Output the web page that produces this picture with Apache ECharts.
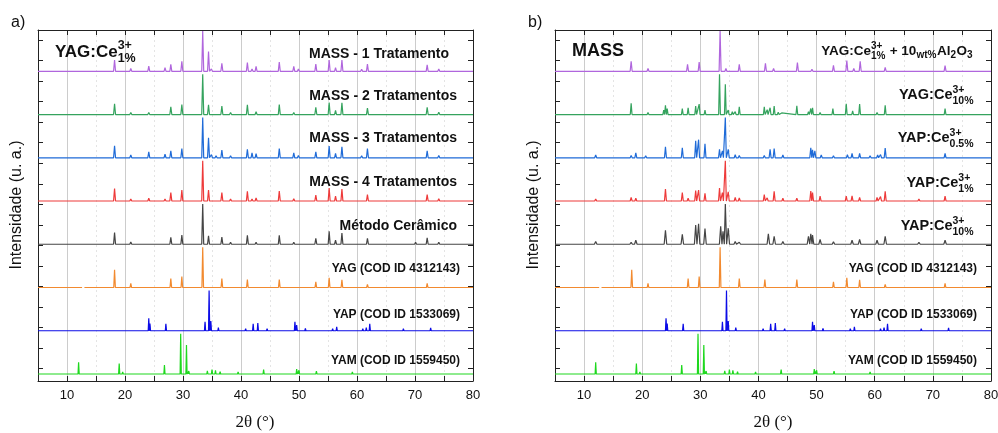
<!DOCTYPE html>
<html>
<head>
<meta charset="utf-8">
<script src="https://cdn.jsdelivr.net/npm/echarts@6/dist/echarts.min.js"></script>
<style>
  html, body { margin: 0; padding: 0; background: #fff; }
  #chart { width: 998px; height: 433px; }
</style>
</head>
<body>
<div id="chart"></div>
<script>
// ---- data: [2θ (°), relative intensity (%)] ----
// panel a)
const mass1 = [[18.2,28],[21.0,7],[24.1,13],[26.9,9],[27.9,17],[29.8,25],[30.9,3],[33.4,100],[34.4,49],[34.9,6],[35.7,4],[36.7,20],[38.2,4],[41.1,22],[41.9,6],[42.6,12],[46.6,23],[49.1,12],[49.9,6],[52.9,18],[55.2,28],[56.3,9],[57.4,28],[60.8,5],[61.8,18],[67.6,3],[70.1,4],[72.1,16],[74.1,6],[76.9,3]];
const mass2 = [[18.2,27],[21.0,5],[24.1,5],[26.9,4],[27.9,19],[29.8,25],[30.9,2],[33.4,100],[34.4,24],[34.9,3],[35.7,2],[36.7,21],[38.2,5],[41.1,24],[41.9,4],[42.6,7],[46.6,25],[49.1,5],[49.9,3],[52.9,18],[55.2,30],[56.3,10],[57.4,29],[60.8,4],[61.8,16],[67.6,2],[70.1,3],[72.1,18],[74.1,6],[76.9,2]];
const mass3 = [[18.2,30],[21.0,7],[24.1,15],[26.9,9],[27.9,17],[29.8,23],[30.9,4],[33.4,100],[34.4,50],[34.9,8],[35.7,5],[36.7,19],[38.2,5],[41.1,21],[41.9,12],[42.6,10],[46.6,23],[49.1,12],[49.9,6],[52.9,15],[55.2,29],[56.3,11],[57.4,27],[60.8,5],[61.8,23],[67.6,3],[70.1,4],[72.1,17],[74.1,6],[76.9,3]];
const mass4 = [[18.2,31],[21.0,5],[24.1,7],[26.9,5],[27.9,21],[29.8,27],[30.9,3],[33.4,100],[34.4,27],[34.9,4],[35.7,3],[36.7,21],[38.2,5],[41.1,24],[41.9,5],[42.6,8],[46.6,25],[49.1,6],[49.9,3],[52.9,15],[55.2,32],[56.3,12],[57.4,30],[60.8,4],[61.8,16],[67.6,3],[70.1,4],[72.1,16],[74.1,6],[76.9,3]];
const ceramico = [[18.2,29],[21.0,6],[24.1,4],[26.0,3],[27.9,17],[29.8,23],[33.4,100],[34.4,21],[36.7,18],[38.2,5],[41.1,22],[42.6,5],[46.6,22],[49.1,5],[49.6,4],[52.9,15],[55.2,32],[56.3,10],[57.4,28],[60.8,4],[61.8,15],[70.1,5],[72.1,16],[74.1,5]];

// panel b)
const yagAl2o3 = [[18.1,25],[21.0,7],[25.8,4],[27.8,17],[29.8,23],[33.4,100],[34.4,7],[36.0,4],[36.7,17],[38.2,4],[41.2,20],[42.6,7],[46.7,22],[49.2,5],[52.9,15],[55.2,27],[56.4,7],[57.5,25],[61.8,10],[70.1,4],[72.1,14],[74.2,4]];
const yagCe10 = [[12.0,3],[18.1,28],[18.9,3],[21.0,5],[23.7,11],[24.0,23],[24.3,15],[25.7,4],[26.9,15],[27.9,17],[29.2,21],[29.8,26],[30.8,11],[33.3,100],[34.3,75],[34.8,11],[35.5,7],[36.0,7],[36.7,19],[38.2,4],[41.0,19],[41.5,12],[42.0,17],[42.7,21],[43.4,6],[44.0,4],[46.6,22],[48.6,7],[49.0,15],[49.3,17],[50.6,5],[52.8,15],[55.1,27],[56.2,9],[57.4,26],[60.4,5],[60.8,4],[61.8,23],[66.6,4],[68.2,2],[70.2,2],[72.1,15],[74.1,3]];
const yapCe05 = [[12.0,7],[18.1,6],[18.9,12],[20.6,5],[24.0,27],[26.9,25],[27.9,4],[29.2,42],[29.7,45],[30.8,35],[33.3,21],[33.8,17],[34.3,100],[34.8,21],[36.0,8],[36.7,6],[39.7,2],[41.0,6],[42.0,21],[42.7,23],[44.2,7],[46.6,4],[49.0,25],[49.3,20],[49.7,17],[50.8,7],[52.9,5],[55.3,8],[56.1,11],[57.4,11],[59.2,5],[60.5,7],[61.0,8],[61.8,24],[67.6,4],[72.1,11],[78.4,2]];
const yapCe1 = [[12.0,5],[18.1,9],[18.9,7],[24.0,30],[26.9,21],[27.9,7],[29.2,26],[29.7,27],[30.8,19],[33.3,32],[33.8,21],[34.3,100],[34.8,23],[36.0,9],[36.7,8],[41.0,16],[41.5,8],[42.7,24],[44.2,7],[46.6,7],[49.0,25],[49.3,21],[50.6,12],[55.1,12],[56.1,13],[57.4,9],[60.4,9],[61.0,11],[61.8,24],[67.6,5],[72.1,12]];
const yapCe10 = [[12.0,7],[18.1,5],[18.9,10],[20.6,4],[24.0,35],[26.9,25],[29.2,48],[29.7,51],[30.8,39],[33.5,45],[33.9,32],[34.3,100],[34.8,40],[36.0,7],[36.7,5],[41.7,26],[42.7,20],[44.2,7],[48.6,20],[49.0,26],[49.3,23],[50.6,12],[52.9,6],[56.1,10],[57.4,12],[60.4,10],[61.8,20],[67.6,5],[72.1,10],[78.4,3]];

// reference cards (both panels)
const yagRef = [[18.2,44],[21.0,10],[27.9,22],[29.8,27],[33.4,100],[36.7,22],[38.2,4],[41.1,20],[42.6,4],[46.6,20],[52.9,14],[55.2,24],[56.3,4],[57.4,19],[60.8,2],[61.8,8],[70.1,4],[72.1,10],[74.1,2]];
const yagRefGap = [12.6, 13.0];
const yapRef = [[24.1,31],[24.3,18],[27.05,17],[33.8,22],[34.5,100],[34.8,24],[36.1,8],[40.8,5],[42.1,17],[42.9,19],[44.5,5],[49.3,22],[49.6,14],[51.1,6],[55.8,5],[56.5,10],[61.0,5],[61.6,8],[62.2,17],[68.0,5],[72.7,7],[78.8,3]];
const yamRef = [[12.0,29],[16.8,4],[19.0,26],[19.6,5],[24.0,3],[26.8,22],[29.6,100],[30.6,72],[31.0,7],[34.2,8],[35.0,11],[35.6,9],[36.4,6],[39.5,5],[43.9,11],[49.6,12],[50.0,9],[53.0,7],[57.8,4],[59.2,5],[61.3,3]];

const xMin = 5, xMax = 80;
const xTickStep = 5;

// ---- layout ----
const FONT = '"Liberation Sans", Arial, sans-serif';
const ROW_OFFSET = 0.162;      // baseline of the bottom row, in row units
const PEAK_SCALE = 0.0093;     // 100 % -> 0.93 row
const Y_MAX = 8.117;
const yTicks = [];
for (let i = 0; i <= 16; i++) yTicks.push((12.3 + 20.54 * i) / 43.24);

const C = {
  purple: '#b066dd', green: '#35a35e', blue: '#1f6bd8', red: '#ee3a3a',
  gray: '#454545', orange: '#f28a2f', yap: '#0c0ce6', yam: '#1ed81e'
};

function profile(peaks, base, hw, gap) {
  const pts = [[xMin, base]];
  if (gap) pts.push([gap[0], base], [(gap[0] + gap[1]) / 2, '-'], [gap[1], base]);
  peaks.forEach(([p, I]) => {
    pts.push([p - hw, base], [p, base + I * PEAK_SCALE], [p + hw, base]);
  });
  pts.push([xMax, base]);
  return pts;
}

function patternSeries(panel, row, peaks, color, hw, opts) {
  opts = opts || {};
  const base = ROW_OFFSET + row;
  const s = {
    type: 'line', xAxisIndex: panel * 2, yAxisIndex: panel * 2,
    data: profile(peaks, base, hw, opts.gap),
    showSymbol: false, symbol: 'none', silent: true, animation: false,
    lineStyle: { color, width: 1.2 }, itemStyle: { color }
  };
  if (opts.fill) s.areaStyle = { origin: base, color, opacity: 1 };
  return s;
}

function axesFor(panel) {
  const common = {
    type: 'value', gridIndex: panel, min: xMin, max: xMax, interval: xTickStep,
    axisLine: { onZero: false, lineStyle: { color: '#222', width: 1 } },
    axisTick: { inside: true, length: 5, lineStyle: { color: '#222' } }
  };
  const xb = Object.assign({}, common, {
    position: 'bottom',
    axisLabel: { formatter: v => (v % 10 === 0 ? String(v) : ''), color: '#111', fontSize: 13, fontFamily: FONT, margin: 8 },
    splitLine: { show: true, lineStyle: { color: ['rgba(0,0,0,0)', '#cccccc'], width: 1 } }
  });
  const xt = Object.assign({}, common, {
    position: 'top',
    axisLabel: { show: false },
    splitLine: { show: true, lineStyle: { color: ['#e4e4e4', 'rgba(0,0,0,0)'], type: [2, 3], width: 1 } }
  });
  const yCommon = {
    type: 'value', gridIndex: panel, min: 0, max: Y_MAX,
    axisLine: { show: true, onZero: false, lineStyle: { color: '#222', width: 1 } },
    axisTick: { show: true, inside: true, length: 5, customValues: yTicks, lineStyle: { color: '#222' } },
    axisLabel: { show: false },
    splitLine: { show: false }
  };
  return {
    x: [xb, xt],
    y: [Object.assign({}, yCommon, { position: 'left' }), Object.assign({}, yCommon, { position: 'right' })]
  };
}

// ---- text helpers ----
const mctx = document.createElement('canvas').getContext('2d');
function textW(t, size, weight) {
  mctx.font = `${weight || 'bold'} ${size}px ${FONT}`;
  return mctx.measureText(t).width;
}
function txt(t, x, y, size, weight) {
  return {
    type: 'text', x, y, silent: true, z: 100,
    style: {
      text: t, font: `${weight || 'bold'} ${size}px ${FONT}`, fill: '#111',
      align: 'left', verticalAlign: 'middle', textAlign: 'left', textVerticalAlign: 'middle'
    }
  };
}
// parts: plain strings, or {sup, sub} stacked scripts, or {sub}
function richLabel(parts, anchorX, cy, size, small, alignRight) {
  const widths = parts.map(p => typeof p === 'string'
    ? textW(p, size)
    : Math.max(p.sup ? textW(p.sup, small) : 0, p.sub ? textW(p.sub, small) : 0) + 0.5);
  const total = widths.reduce((a, b) => a + b, 0);
  let x = alignRight ? anchorX - total : anchorX;
  const els = [];
  parts.forEach((p, i) => {
    if (typeof p === 'string') {
      els.push(txt(p, x, cy, size));
    } else {
      if (p.sup) els.push(txt(p.sup, x, cy - size * 0.37, small));
      if (p.sub) els.push(txt(p.sub, x, cy + size * (p.sup ? 0.4 : 0.3), small));
    }
    x += widths[i];
  });
  return els;
}
function centered(t, x, y, font, rotation) {
  return {
    type: 'text', x, y, rotation: rotation || 0, silent: true,
    style: { text: t, font, fill: '#111', align: 'center', verticalAlign: 'middle', textAlign: 'center', textVerticalAlign: 'middle' }
  };
}

const graphics = [].concat(
  // panel a
  richLabel(['YAG:Ce', { sup: '3+', sub: '1%' }], 55, 52, 17, 12.5, false),
  richLabel(['MASS - 1 Tratamento'], 449, 54, 14, 10, true),
  richLabel(['MASS - 2 Tratamentos'], 457, 96, 14, 10, true),
  richLabel(['MASS - 3 Tratamentos'], 457, 138, 14, 10, true),
  richLabel(['MASS - 4 Tratamentos'], 457, 182, 14, 10, true),
  richLabel(['Método Cerâmico'], 457, 226, 14, 10, true),
  richLabel(['YAG (COD ID 4312143)'], 460, 269, 12, 9, true),
  richLabel(['YAP (COD ID 1533069)'], 460, 315, 12, 9, true),
  richLabel(['YAM (COD ID 1559450)'], 460, 361, 12, 9, true),
  // panel b
  richLabel(['MASS'], 572, 51, 18, 12, false),
  richLabel(['YAG:Ce', { sup: '3+', sub: '1%' }, ' + 10', { sub: 'wt%' }, 'Al', { sub: '2' }, 'O', { sub: '3' }], 973, 51, 13.5, 10, true),
  richLabel(['YAG:Ce', { sup: '3+', sub: '10%' }], 974, 95, 14.5, 10.5, true),
  richLabel(['YAP:Ce', { sup: '3+', sub: '0.5%' }], 974, 138, 14.5, 10.5, true),
  richLabel(['YAP:Ce', { sup: '3+', sub: '1%' }], 974, 183, 14.5, 10.5, true),
  richLabel(['YAP:Ce', { sup: '3+', sub: '10%' }], 974, 226, 14.5, 10.5, true),
  richLabel(['YAG (COD ID 4312143)'], 977, 269, 12, 9, true),
  richLabel(['YAP (COD ID 1533069)'], 977, 315, 12, 9, true),
  richLabel(['YAM (COD ID 1559450)'], 977, 361, 12, 9, true),
  [
    txt('a)', 11, 23, 16, 'normal'),
    txt('b)', 528, 23, 16, 'normal'),
    centered('Intensidade (u. a.)', 17, 205, `16px ${FONT}`, Math.PI / 2),
    centered('Intensidade (u. a.)', 534, 205, `16px ${FONT}`, Math.PI / 2),
    centered('2θ (°)', 255, 423, '17px "Liberation Serif", "Times New Roman", serif'),
    centered('2θ (°)', 773, 423, '17px "Liberation Serif", "Times New Roman", serif')
  ]
);

const a0 = axesFor(0), a1 = axesFor(1);

const series = [
  // panel a, bottom row first
  patternSeries(0, 0, yamRef, C.yam, 0.1, { fill: true }),
  patternSeries(0, 1, yapRef, C.yap, 0.1, { fill: true }),
  patternSeries(0, 2, yagRef, C.orange, 0.14, { gap: yagRefGap }),
  patternSeries(0, 3, ceramico, C.gray, 0.17),
  patternSeries(0, 4, mass4, C.red, 0.17),
  patternSeries(0, 5, mass3, C.blue, 0.17),
  patternSeries(0, 6, mass2, C.green, 0.17),
  patternSeries(0, 7, mass1, C.purple, 0.17),
  // panel b
  patternSeries(1, 0, yamRef, C.yam, 0.1, { fill: true }),
  patternSeries(1, 1, yapRef, C.yap, 0.1, { fill: true }),
  patternSeries(1, 2, yagRef, C.orange, 0.14, { gap: yagRefGap }),
  patternSeries(1, 3, yapCe10, C.gray, 0.22),
  patternSeries(1, 4, yapCe1, C.red, 0.17),
  patternSeries(1, 5, yapCe05, C.blue, 0.17),
  patternSeries(1, 6, yagCe10, C.green, 0.15),
  patternSeries(1, 7, yagAl2o3, C.purple, 0.17)
];

const chart = echarts.init(document.getElementById('chart'), null, { renderer: 'canvas' });
chart.setOption({
  animation: false,
  backgroundColor: '#fff',
  grid: [
    { left: 38, top: 30, width: 435, height: 351, outerBoundsMode: 'none' },
    { left: 555, top: 30, width: 436, height: 351, outerBoundsMode: 'none' }
  ],
  xAxis: [a0.x[0], a0.x[1], a1.x[0], a1.x[1]],
  yAxis: [a0.y[0], a0.y[1], a1.y[0], a1.y[1]],
  series,
  graphic: { elements: graphics }
});
</script>
</body>
</html>
